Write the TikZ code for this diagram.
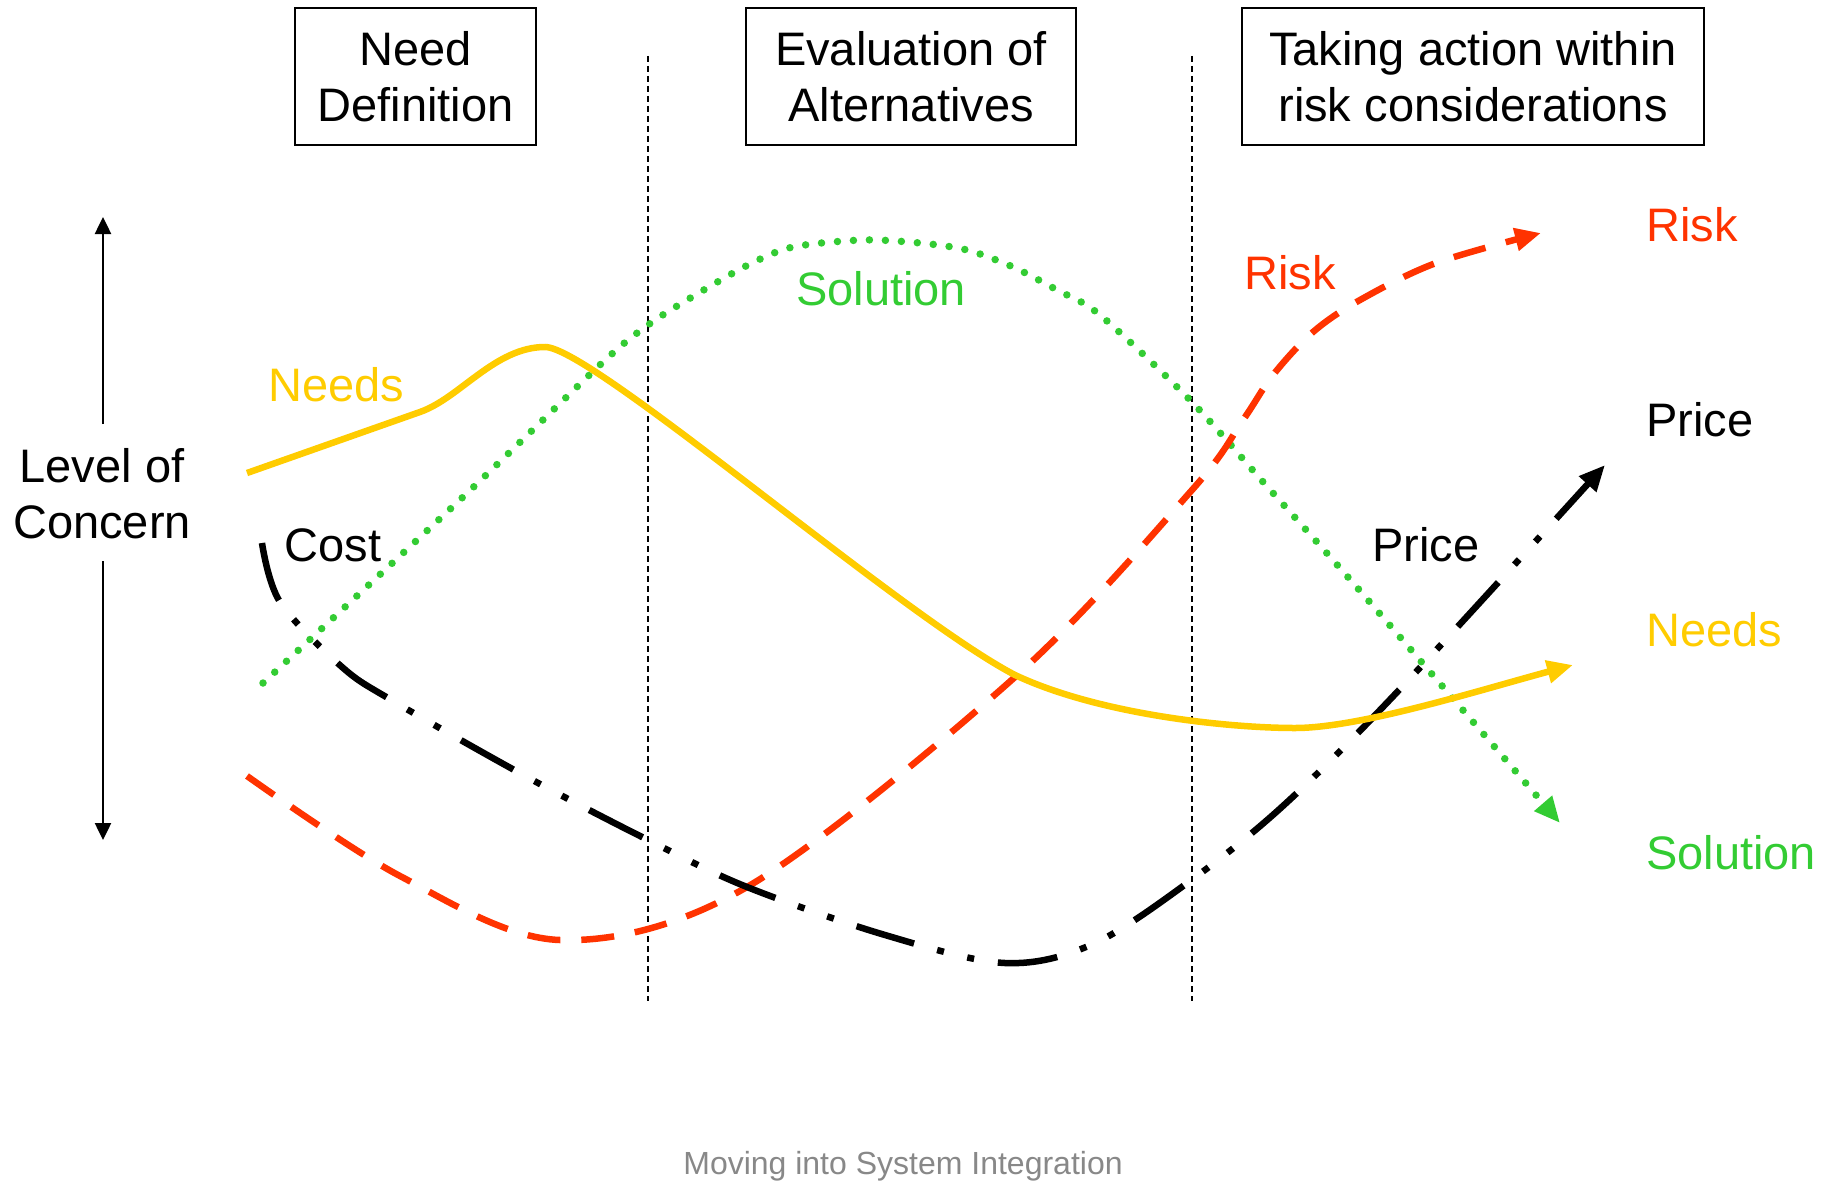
\documentclass[tikz,border=0pt]{standalone}
\usepackage{fontspec}
\setmainfont{Liberation Sans}
\usetikzlibrary{arrows.meta}
\definecolor{cyel}{HTML}{FFCC00}
\definecolor{cgrn}{HTML}{33CC33}
\definecolor{cred}{HTML}{FF3300}
\definecolor{cgry}{HTML}{888888}
\begin{document}
\begin{tikzpicture}[x=1pt,y=-1pt,
  big/.style={font=\fontsize{47}{56}\selectfont, inner sep=0pt},
  phasebox/.style={draw, line width=1.5pt, big, align=center, minimum height=137pt},
  divider/.style={line width=1.3pt, dash pattern=on 6pt off 4pt},
  curve/.style={line width=6.5pt, -{Triangle[length=26pt,width=22pt]}},
  needsline/.style={curve, cyel},
  solline/.style={curve, line width=7.5pt, cgrn, line cap=round, dash pattern=on 0pt off 16pt},
  riskline/.style={curve, cred, dash pattern=on 33pt off 21pt},
  priceline/.style={curve, black, dash pattern=on 60pt off 24pt on 7pt off 24pt on 7pt off 24pt},
  axisarrow/.style={line width=2.5pt, -{Triangle[length=17pt,width=16pt]}}
]
\useasboundingbox (0,0) rectangle (1830,1180);

% phase boxes
\node[phasebox, minimum width=241pt] (need) at (415.5,76.5) {Need\\Definition};
\node[phasebox, minimum width=330pt] (eval) at (911,76.5) {Evaluation of\\Alternatives};
\node[phasebox, minimum width=462pt] (act) at (1473,76.5) {Taking action within\\risk considerations};

% dividers
\coordinate (d1t) at (648,56); \coordinate (d1b) at (648,1001);
\coordinate (d2t) at (1192,56); \coordinate (d2b) at (1192,1001);
\draw[divider] (d1t) -- (d1b);
\draw[divider] (d2t) -- (d2b);

% axis
\node[big, align=center] (loc) at (102,494) {Level of\\Concern};
\coordinate (axtop) at (103,217);
\coordinate (axbot) at (103,840);
\draw[axisarrow] (103,424) -- (axtop);
\draw[axisarrow] (103,561) -- (axbot);

% curves
\draw[solline] plot[smooth, tension=0.5] coordinates {(263,683) (463,497) (602,363) (648,325) (692,297) (748,265) (793,247) (863,240) (920,243) (967,250) (1013,267) (1057,290) (1100,315) (1190,400) (1264,483) (1361,592) (1560,823)};
\draw[riskline] plot[smooth, tension=0.55] coordinates {(247,776) (400,876) (560,940) (747,887) (1015,677) (1192,490) (1243,420) (1273,375) (1313,332) (1360,300) (1436,263) (1541,233)};
\draw[priceline] plot[smooth, tension=0.55] coordinates {(262,543) (280,602) (342,667) (393,701) (527,777) (648,840) (747,887) (885,935) (1005,963) (1093,944) (1190,881) (1284,805) (1400,689) (1605,465)};
\coordinate (n0) at (247,473);
\coordinate (nend) at (1573,665);
\draw[needsline] (n0) -- (420,412) .. controls (460,398) and (495,347) .. (545,347)
  .. controls (592,347) and (900,615) .. (1015,675)
  .. controls (1100,715) and (1230,728) .. (1295,728)
  .. controls (1360,728) and (1480,690) .. (nend);

% curve labels
\node[big, text=cyel] (lneeds) at (336,385) {Needs};
\node[big] (lcost) at (333,545) {Cost};
\node[big, text=cgrn] (lsol) at (881,289) {Solution};
\node[big, text=cred] (lrisk) at (1290,273) {Risk};
\node[big] (lprice) at (1426,545) {Price};

% right labels
\node[big, text=cred, anchor=west] (rrisk) at (1646,225) {Risk};
\node[big, anchor=west] (rprice) at (1646,420) {Price};
\node[big, text=cyel, anchor=west] (rneeds) at (1646,630) {Needs};
\node[big, text=cgrn, anchor=west] (rsol) at (1646,853) {Solution};

% caption
\node[font=\fontsize{32}{38}\selectfont, text=cgry, inner sep=0pt] (cap) at (903,1166) {Moving into System Integration};
\end{tikzpicture}
\end{document}
